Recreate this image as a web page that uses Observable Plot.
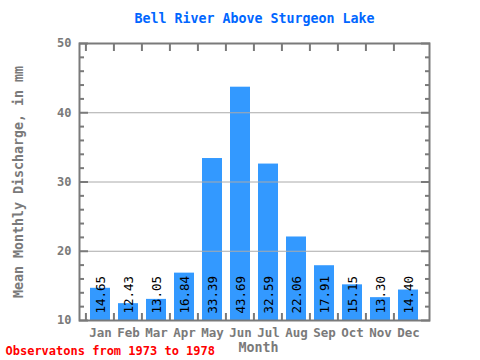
<!DOCTYPE html>
<html>
<head>
<meta charset="utf-8">
<script src="https://cdn.jsdelivr.net/npm/d3@7"></script>
<script src="https://cdn.jsdelivr.net/npm/@observablehq/plot@0.6"></script>
<style>
html,body{margin:0;padding:0;background:#fff;}
</style>
</head>
<body>
<div id="chart"></div>
<script>
const months = ["Jan","Feb","Mar","Apr","May","Jun","Jul","Aug","Sep","Oct","Nov","Dec"];
const values = [14.65, 12.43, 13.05, 16.84, 33.39, 43.69, 32.59, 22.06, 17.91, 15.15, 13.30, 14.40];
const yMajorTicks = [10, 20, 30, 40, 50];
const yMinorTicks = [12,14,16,18,22,24,26,28,32,34,36,38,42,44,46,48];
const gridValues = [20, 30, 40];
const titleText = "Bell River Above Sturgeon Lake";
const yLabel = "Mean Monthly Discharge, in mm";
const xLabel = "Month";
const captionText = "Observatons from 1973 to 1978";

const data = months.map((m, i) => ({month: m, value: values[i]}));

const W = 480, H = 360, ML = 79, MR = 51, MT = 43, MB = 40;
const step = (W - ML - MR) / months.length;
const gray = "#7a7a7a";
const font = "DejaVu Sans Mono";

const chart = Plot.plot({
  width: W, height: H,
  marginLeft: ML, marginRight: MR, marginTop: MT, marginBottom: MB,
  style: {fontFamily: font, background: "#fff"},
  x: {domain: months, padding: 0.3, label: null},
  y: {domain: [10, 50], label: null},
  marks: [
    Plot.barY(data, {x: "month", y1: 10, y2: "value", fill: "#3399ff"}),
    Plot.gridY(gridValues, {stroke: "#aaaaaa", strokeOpacity: 1, strokeWidth: 1}),
    Plot.text(data, {x: "month", y: 10, text: d => d.value.toFixed(2), rotate: -90, textAnchor: "start", dy: -7, fill: "#000", fontSize: 12.5}),
    // y axis labels
    Plot.axisY({ticks: yMajorTicks, tickSize: 0, tickPadding: 8, fontSize: 12, fontWeight: "bold", fill: gray, label: null}),
    // y ticks inward left and right
    Plot.axisY({ticks: yMajorTicks, tickSize: -9, tickFormat: () => "", stroke: gray, strokeWidth: 2, label: null}),
    Plot.axisY({ticks: yMinorTicks, tickSize: -5, tickFormat: () => "", stroke: gray, strokeWidth: 2, label: null}),
    Plot.axisY({anchor: "right", ticks: yMajorTicks, tickSize: -9, tickFormat: () => "", stroke: gray, strokeWidth: 2, label: null}),
    Plot.axisY({anchor: "right", ticks: yMinorTicks, tickSize: -5, tickFormat: () => "", stroke: gray, strokeWidth: 2, label: null}),
    // x ticks at band boundaries, top and bottom
    Plot.axisX({anchor: "bottom", tickSize: -7, dx: -step / 2, tickFormat: () => "", stroke: gray, strokeWidth: 2, label: null}),
    Plot.axisX({anchor: "top", tickSize: -7, dx: -step / 2, tickFormat: () => "", stroke: gray, strokeWidth: 2, label: null}),
    // month labels
    Plot.axisX({anchor: "bottom", tickSize: 0, tickPadding: 8, fontSize: 12.5, fontWeight: "bold", fill: gray, label: null}),
    Plot.frame({stroke: gray, strokeWidth: 2}),
    // titles
    Plot.text([titleText], {text: d => d, frameAnchor: "top", lineAnchor: "middle", dy: -25, fill: "#0066ff", fontSize: 13.3, fontWeight: "bold"}),
    Plot.text([yLabel], {text: d => d, frameAnchor: "left", textAnchor: "middle", lineAnchor: "middle", dx: -61, rotate: -90, fill: gray, fontSize: 13.3, fontWeight: "bold"}),
    Plot.text([xLabel], {text: d => d, frameAnchor: "bottom", lineAnchor: "middle", dx: 4, dy: 27, fill: gray, fontSize: 13.3, fontWeight: "bold"}),
    Plot.text([captionText], {text: d => d, frameAnchor: "bottom-left", textAnchor: "start", lineAnchor: "middle", dx: -74, dy: 31, fill: "#ff0000", fontSize: 12, fontWeight: "bold"})
  ]
});
document.getElementById("chart").appendChild(chart);
</script>
</body>
</html>
